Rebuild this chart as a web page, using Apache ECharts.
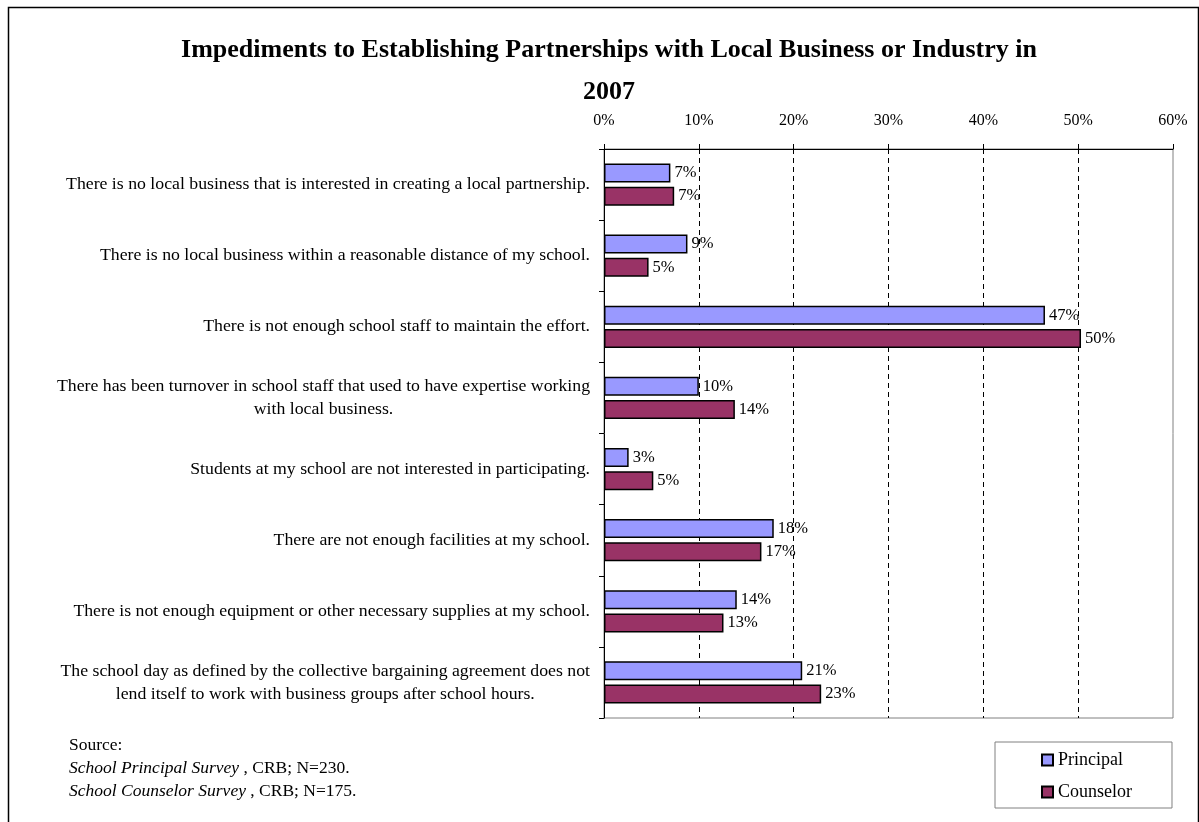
<!DOCTYPE html>
<html>
<head>
<meta charset="utf-8">
<script src="https://cdn.jsdelivr.net/npm/echarts@6/dist/echarts.min.js"></script>
<style>
  html, body { margin: 0; padding: 0; background: #fff; }
  #chart { width: 1199px; height: 822px; }
</style>
</head>
<body>
<div id="chart"></div>
<script>
// Impediments listed on the vertical axis, top to bottom
var categories = [
  'There is no local business that is interested in creating a local partnership.',
  'There is no local business within a reasonable distance of my school.',
  'There is not enough school staff to maintain the effort.',
  'There has been turnover in school staff that used to have expertise working\nwith local business.',
  'Students at my school are not interested in participating.',
  'There are not enough facilities at my school.',
  'There is not enough equipment or other necessary supplies at my school.',
  'The school day as defined by the collective bargaining agreement does not\nlend itself to work with business groups after school hours.'
];

// Percent of respondents citing each impediment
var principalValues = [7.0, 8.8, 46.5, 10.0, 2.6, 17.9, 14.0, 20.9];
var counselorValues = [7.4, 4.7, 50.3, 13.8, 5.2, 16.6, 12.6, 22.9];

var seriesNames = ['Principal', 'Counselor'];
var xTicks = { min: 0, max: 60, interval: 10 };

var titleText = 'Impediments to Establishing Partnerships with Local Business or Industry in\n2007';
var sourceLines = [
  ['', 'Source:'],
  ['School Principal Survey', ' , CRB; N=230.'],
  ['School Counselor Survey', ' , CRB; N=175.']
];

var SERIF = '"Liberation Serif", "Times New Roman", serif';

var chart = echarts.init(document.getElementById('chart'), null, { renderer: 'canvas' });

function valueLabel(p) {
  return Math.round(p.value) + '%';
}

var sourceRich = sourceLines.map(function (l) {
  return (l[0] ? '{i|' + l[0] + '}' : '') + '{n|' + l[1] + '}';
}).join('\n');

var barLabel = {
  show: true, position: 'right', distance: 4,
  fontFamily: SERIF, fontSize: 16.5, color: '#000',
  formatter: valueLabel
};

var option = {
  backgroundColor: '#ffffff',
  animation: false,
  title: {
    text: titleText,
    left: 604,
    top: 24,
    textAlign: 'center',
    textStyle: {
      fontFamily: SERIF,
      fontWeight: 'bold',
      fontSize: 26,
      lineHeight: 42,
      color: '#000'
    }
  },
  grid: {
    left: 604,
    right: 26,
    top: 149,
    bottom: 104,
    show: true,
    borderColor: '#808080',
    borderWidth: 1,
    backgroundColor: 'transparent'
  },
  legend: {
    orient: 'vertical',
    left: 995,
    top: 742,
    data: seriesNames,
    icon: 'rect',
    itemWidth: 11,
    itemHeight: 11,
    itemGap: 14,
    padding: [9, 40, 7, 46],
    borderColor: '#808080',
    borderWidth: 1,
    textStyle: { fontFamily: SERIF, fontSize: 18, color: '#000' }
  },
  xAxis: {
    type: 'value',
    position: 'top',
    min: xTicks.min,
    max: xTicks.max,
    interval: xTicks.interval,
    axisLine: { show: true, lineStyle: { color: '#000', width: 1 } },
    axisTick: { show: true, length: 5, lineStyle: { color: '#000' } },
    axisLabel: {
      margin: 20,
      fontFamily: SERIF,
      fontSize: 16,
      color: '#000',
      formatter: function (v) { return v + '%'; }
    },
    splitLine: {
      show: true,
      showMinLine: false,
      showMaxLine: false,
      lineStyle: { color: '#000', type: [5, 4], width: 1 }
    }
  },
  yAxis: {
    type: 'category',
    inverse: true,
    data: categories,
    axisLine: { show: true, lineStyle: { color: '#000', width: 1 } },
    axisTick: { show: true, length: 5, lineStyle: { color: '#000' } },
    axisLabel: {
      margin: 14,
      fontFamily: SERIF,
      fontSize: 17.75,
      color: '#000',
      lineHeight: 23,
      align: 'right',
      formatter: function (v) {
        return v.split('\n').map(function (s) { return '{c|' + s + '}'; }).join('\n');
      },
      rich: {
        c: { align: 'center', fontFamily: SERIF, fontSize: 17.75, color: '#000', lineHeight: 23 }
      }
    }
  },
  series: [
    {
      name: seriesNames[0],
      type: 'bar',
      data: principalValues,
      barWidth: 19,
      barGap: '22%',
      itemStyle: { color: '#9999FF', borderColor: '#000', borderWidth: 1.5 },
      label: barLabel
    },
    {
      name: seriesNames[1],
      type: 'bar',
      data: counselorValues,
      barWidth: 19,
      barGap: '22%',
      itemStyle: { color: '#993366', borderColor: '#000', borderWidth: 1.5 },
      label: barLabel
    }
  ],
  graphic: [
    {
      type: 'rect',
      left: 6, top: 5,
      shape: { width: 1190, height: 840 },
      style: { fill: 'none', stroke: '#000', lineWidth: 1.5 },
      silent: true,
      z: -10
    },
    {
      type: 'text',
      left: 69, top: 736,
      style: {
        text: sourceRich,
        rich: {
          i: { fontFamily: SERIF, fontStyle: 'italic', fontSize: 17.5, lineHeight: 23, fill: '#000' },
          n: { fontFamily: SERIF, fontSize: 17.5, lineHeight: 23, fill: '#000' }
        }
      }
    }
  ]
};

chart.setOption(option);
</script>
</body>
</html>
